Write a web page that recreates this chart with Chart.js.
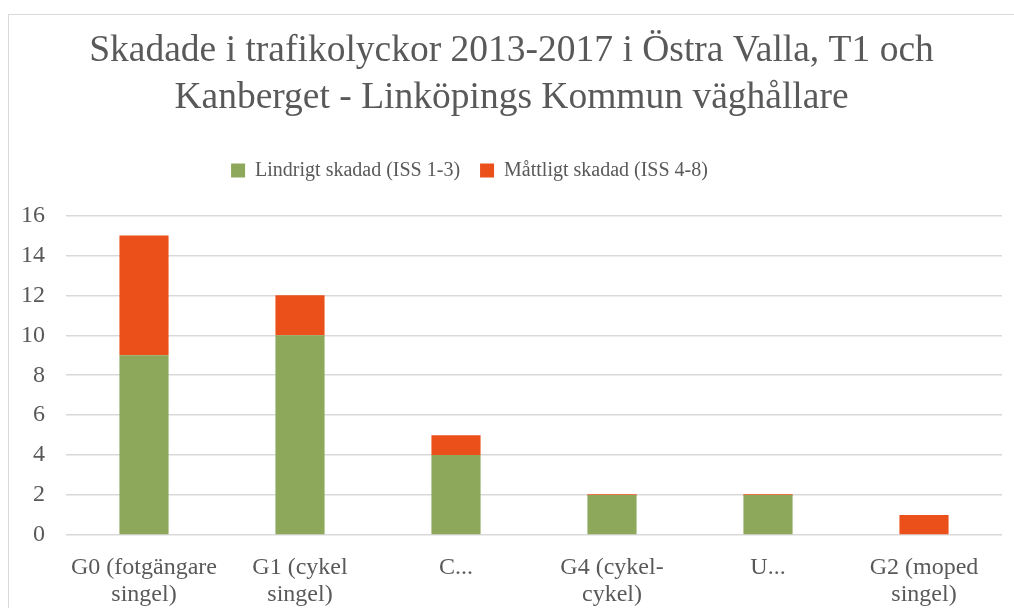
<!DOCTYPE html>
<html>
<head>
<meta charset="utf-8">
<script src="https://cdn.jsdelivr.net/npm/chart.js@4.4.0/dist/chart.umd.min.js"></script>
<style>
  html, body { margin: 0; padding: 0; background: #fff; overflow: hidden; }
  #frame { position: absolute; left: 8px; top: 14px; width: 1100px; height: 700px; border: 1px solid #d9d9d9; }
  #wrap { position: absolute; left: 0; top: 0; width: 1014px; height: 608px; }
</style>
</head>
<body>
<div id="frame"></div>
<div id="wrap"><canvas id="chart" width="1014" height="608"></canvas></div>
<script>
// kategorier och värden
const categories = [
  ['G0 (fotgängare', 'singel)'],
  ['G1 (cykel', 'singel)'],
  'C...',
  ['G4 (cykel-', 'cykel)'],
  'U...',
  ['G2 (moped', 'singel)']
];
const lindrigt = [9, 10, 4, 2, 2, 0];
const mattligt = [6, 2, 1, 0, 0, 1];
const yTicks = { min: 0, max: 16, step: 2 };

const serif = '"Liberation Serif", "Times New Roman", serif';
const textColor = '#595959';

// flytta legenden (vänster och uppåt) som i originalet
const legendShift = {
  id: 'legendShift',
  afterLayout(chart) {
    const lg = chart.legend;
    lg.left -= 42;
    lg.right -= 42;
    lg.top -= 25;
    lg.bottom -= 25;
  }
};

const ctx = document.getElementById('chart').getContext('2d');
new Chart(ctx, {
  type: 'bar',
  data: {
    labels: categories,
    datasets: [
      {
        label: 'Lindrigt skadad (ISS 1-3)',
        data: lindrigt,
        backgroundColor: '#8DA85A',
        barPercentage: 0.315,
        categoryPercentage: 1
      },
      {
        label: 'Måttligt skadad (ISS 4-8)',
        data: mattligt,
        backgroundColor: '#EB501B',
        barPercentage: 0.315,
        categoryPercentage: 1,
        minBarLength: 1.5
      }
    ]
  },
  options: {
    responsive: false,
    animation: false,
    layout: { padding: { left: 21, right: 12, top: 0, bottom: 0 } },
    scales: {
      x: {
        stacked: true,
        grid: { display: false, drawTicks: false },
        border: { display: false },
        ticks: {
          color: textColor,
          font: { family: serif, size: 24, lineHeight: 1.125 },
          padding: 19,
          maxRotation: 0,
          autoSkip: false
        },
        afterFit(scale) {
          scale.height = 73;
          scale.paddingLeft = 0;
          scale.paddingRight = 0;
        }
      },
      y: {
        stacked: true,
        min: yTicks.min,
        max: yTicks.max,
        grid: { color: '#d9d9d9', lineWidth: 1.5, drawTicks: false },
        border: { display: false },
        ticks: {
          stepSize: yTicks.step,
          color: textColor,
          font: { family: serif, size: 24 },
          padding: 21
        },
        afterFit(scale) { scale.width = 45; }
      }
    },
    plugins: {
      title: {
        display: true,
        text: ['Skadade i trafikolyckor 2013-2017 i Östra Valla, T1 och', 'Kanberget - Linköpings Kommun väghållare'],
        color: textColor,
        font: { family: serif, size: 37.5, weight: 'normal', lineHeight: 1.253 },
        padding: { top: 27.5, bottom: 44 }
      },
      legend: {
        position: 'top',
        labels: {
          color: textColor,
          font: { family: serif, size: 20 },
          boxWidth: 14,
          boxHeight: 14,
          padding: 20
        }
      },
      tooltip: { enabled: false }
    }
  },
  plugins: [legendShift]
});
</script>
</body>
</html>
